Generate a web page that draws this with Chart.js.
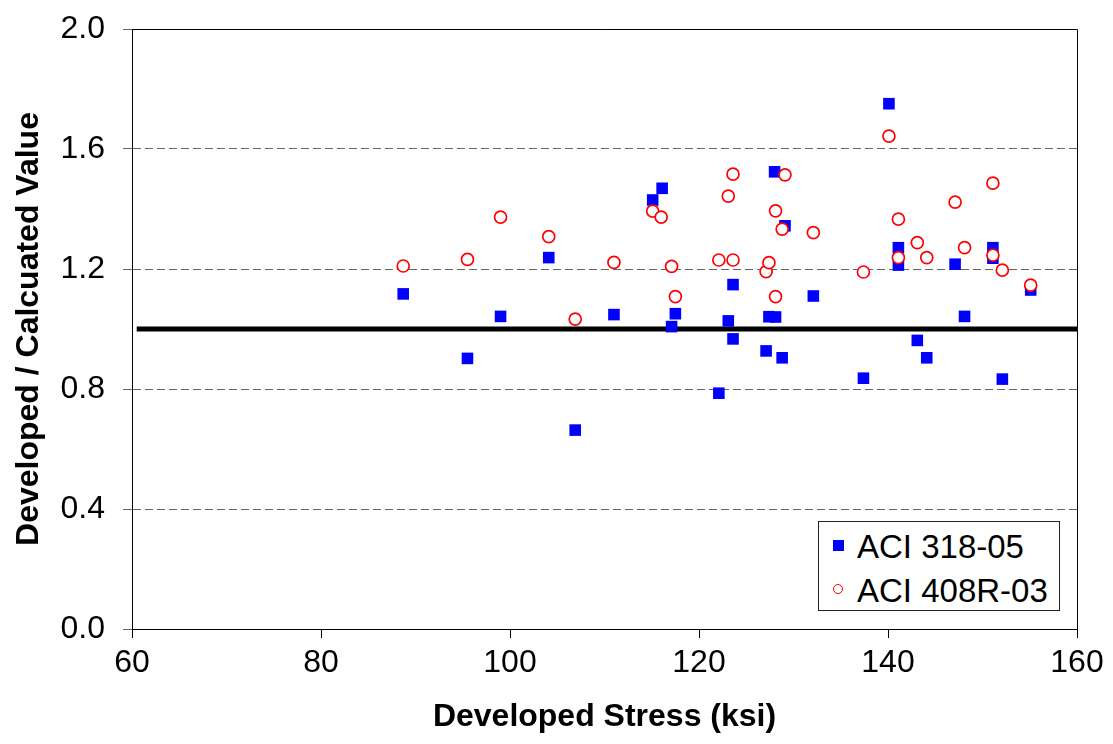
<!DOCTYPE html>
<html>
<head>
<meta charset="utf-8">
<script src="https://cdn.jsdelivr.net/npm/chart.js@4.4.0/dist/chart.umd.min.js"></script>
<style>
  body { margin: 0; background: #fff; }
  #wrap { position: relative; width: 1113px; height: 744px; }
  #legendBox {
    position: absolute; left: 818px; top: 521px; width: 240px; height: 88px;
    border: 1px solid #222; background: #fff;
    font-family: "Liberation Sans", Arial, sans-serif; font-size: 33px; color: #000;
  }
  .row { position: absolute; left: 0; height: 40px; line-height: 40px; white-space: nowrap; }
  .row span.txt { position: absolute; left: 38px; }
  .sq { position: absolute; left: 14px; top: 13px; width: 11px; height: 11px; background: #0000ff; }
  .ci { position: absolute; left: 14px; top: 13px; width: 8px; height: 8px; border: 1.6px solid #ff0000; border-radius: 50%; }
</style>
</head>
<body>
<div id="wrap">
  <canvas id="myChart" width="1113" height="744"></canvas>
  <div id="legendBox">
    <div class="row" style="top:5px"><div class="sq"></div><span class="txt">ACI 318-05</span></div>
    <div class="row" style="top:49px"><div class="ci"></div><span class="txt">ACI 408R-03</span></div>
  </div>
</div>
<script>
// ACI 318-05 (blue squares)
const aci318X = [88.7, 95.5, 99.0, 104.1, 106.9, 111.0, 115.1, 116.1, 117.1, 117.5, 122.1,
  123.1, 123.6, 123.6, 127.1, 127.4, 128.0, 128.1, 128.8, 129.1, 132.1, 137.4, 140.1,
  141.1, 141.1, 143.1, 144.1, 147.1, 148.1, 151.1, 151.1, 152.1, 155.1];
const aci318Y = [1.117, 0.902, 1.042, 1.238, 0.663, 1.048, 1.430, 1.469, 1.008, 1.051, 0.786,
  1.027, 1.148, 0.967, 0.927, 1.041, 1.524, 1.040, 0.904, 1.344, 1.110, 0.836, 1.751,
  1.271, 1.213, 0.962, 0.904, 1.216, 1.042, 1.271, 1.236, 0.833, 1.130];

// ACI 408R-03 (red circles)
const aci408X = [88.7, 95.5, 99.0, 104.1, 106.9, 111.0, 115.1, 116.0, 117.1, 117.5, 122.1,
  123.1, 123.6, 123.6, 127.1, 127.4, 128.1, 128.1, 128.8, 129.1, 132.1, 137.4, 140.1,
  141.1, 141.1, 143.1, 144.1, 147.1, 148.1, 151.1, 151.1, 152.1, 155.1];
const aci408Y = [1.210, 1.232, 1.373, 1.308, 1.033, 1.222, 1.393, 1.373, 1.209, 1.108, 1.230,
  1.443, 1.516, 1.230, 1.191, 1.221, 1.394, 1.108, 1.333, 1.514, 1.321, 1.190, 1.643,
  1.366, 1.238, 1.288, 1.238, 1.423, 1.271, 1.486, 1.246, 1.196, 1.146];

// ratio = 1 reference line
const refLineX = [60.5, 160];
const refLineY = [1.0, 1.0];

const xTicks = [60, 80, 100, 120, 140, 160];
const yTicks = [0.0, 0.4, 0.8, 1.2, 1.6, 2.0];

function toPoints(xs, ys) {
    return xs.map((x, i) => ({ x: x, y: ys[i] }));
}

// top and right frame of the plot area
const frame = {
    id: "frame",
    afterDraw(chart) {
        const a = chart.chartArea;
        const ctx = chart.ctx;
        ctx.save();
        ctx.strokeStyle = "#000";
        ctx.lineWidth = 1;
        ctx.beginPath();
        ctx.moveTo(a.left, a.top + 0.5);
        ctx.lineTo(a.right + 0.5, a.top + 0.5);
        ctx.lineTo(a.right + 0.5, a.bottom);
        ctx.stroke();
        ctx.restore();
    }
};

const FONT = "'Liberation Sans', Arial, sans-serif";

new Chart("myChart", {
    type: "scatter",
    data: {
        datasets: [
            {
                label: "ACI 408R-03",
                data: toPoints(aci408X, aci408Y),
                pointStyle: "circle",
                pointRadius: 6,
                pointBorderWidth: 1.7,
                borderColor: "#ff0000",
                backgroundColor: "#ffffff",
                order: 0
            },
            {
                label: "ACI 318-05",
                data: toPoints(aci318X, aci318Y),
                pointStyle: "rect",
                pointRadius: 8.2,
                pointBorderWidth: 0,
                borderColor: "#0000ff",
                backgroundColor: "#0000ff",
                order: 1
            },
            {
                type: "line",
                label: "ref",
                data: toPoints(refLineX, refLineY),
                borderColor: "#000",
                borderWidth: 5,
                pointRadius: 0,
                order: 2
            }
        ]
    },
    options: {
        responsive: false,
        animation: false,
        events: [],
        layout: { padding: { top: 29, right: 36, left: 0, bottom: 0 } },
        plugins: { legend: { display: false }, tooltip: { enabled: false } },
        scales: {
            x: {
                type: "linear",
                min: 60, max: 160,
                afterFit(s) { s.height = 115; s.paddingLeft = 0; s.paddingRight = 0; },
                afterBuildTicks(s) { s.ticks = xTicks.map(v => ({ value: v })); },
                grid: { drawOnChartArea: false, drawTicks: true, tickLength: 9, tickColor: "#000" },
                border: { display: true, color: "#000", width: 1 },
                ticks: { color: "#000", padding: 6, font: { family: FONT, size: 32 }, maxRotation: 0 },
                title: {
                    display: true, text: "Developed Stress (ksi)", color: "#000",
                    font: { family: FONT, size: 32, weight: "bold" }, padding: { top: 0, bottom: 8 }
                }
            },
            y: {
                type: "linear",
                min: 0, max: 2,
                afterFit(s) { s.width = 132; s.paddingTop = 0; s.paddingBottom = 0; },
                afterBuildTicks(s) { s.ticks = yTicks.map(v => ({ value: v })); },
                grid: {
                    drawOnChartArea: true, drawTicks: true, tickLength: 9,
                    color: (c) => c.tick && c.tick.value === 0 ? "rgba(0,0,0,0)" : "#666",
                    tickColor: "#666", lineWidth: 1
                },
                border: { display: true, color: "#000", width: 1, dash: [8, 4] },
                ticks: {
                    color: "#000", padding: 18, font: { family: FONT, size: 32 },
                    callback: (v) => Number(v).toFixed(1)
                },
                title: {
                    display: true, text: "Developed / Calcuated Value", color: "#000",
                    font: { family: FONT, size: 32, weight: "bold" }, padding: { top: 10, bottom: 0 }
                }
            }
        }
    },
    plugins: [frame]
});
</script>
</body>
</html>
